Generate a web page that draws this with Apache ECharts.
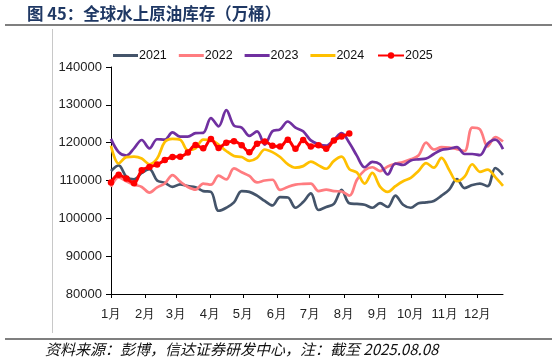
<!DOCTYPE html>
<html><head><meta charset="utf-8">
<script src="https://cdn.jsdelivr.net/npm/echarts@6/dist/echarts.min.js"></script>
<style>html,body{margin:0;padding:0;background:#fff}#c{width:557px;height:363px}</style>
</head><body><div id="c"></div>
<script>
const monthLabels = ['1月','2月','3月','4月','5月','6月','7月','8月','9月','10月','11月','12月'];
const monthStartDays = [0,31,59,90,120,151,181,212,243,273,304,334];
const yTicks = [80000, 90000, 100000, 110000, 120000, 130000, 140000];
const seriesNames = ['2021','2022','2023','2024','2025'];
const v2021 = [112500,114000,111000,110300,112000,113000,110000,109400,108300,109000,108500,108200,107200,107000,102000,102800,104200,107200,107000,106000,104600,103400,105600,105500,102800,104300,106600,102200,103000,103800,107500,104000,103800,103600,102800,104000,103000,106000,103600,102800,104000,104200,104600,106000,107600,110400,108000,108800,109200,108500,113300,111500];
const v2022 = [108300,110800,109800,108900,108300,106800,108200,109200,111400,109700,108300,107600,109200,108900,111300,110300,113200,112200,111200,109500,110000,110200,107500,108300,108900,109100,109200,107200,107600,107200,107100,106000,110200,112700,113500,112500,113700,114400,114900,115600,116600,120000,118200,118800,118700,118300,117800,124000,123500,119000,121500,120300];
const v2023 = [121000,117500,116600,118500,120700,118500,120900,120800,122700,121600,121600,122500,122600,126500,124300,128600,124500,124000,121800,123000,119500,123000,123500,125600,124000,123000,120600,119600,119200,120800,122500,120000,116500,113500,114900,114300,111600,114500,114100,115300,115600,115800,117000,118100,118400,118800,117000,117000,116700,119700,120800,118300];
const v2024 = [119200,114500,116200,116300,115800,114300,115800,120200,121000,120800,118000,118500,120800,120700,119500,117800,116500,116200,115200,116000,118200,117500,116200,114300,113400,113800,115000,114000,113100,115200,116300,113000,112100,109200,112000,108400,107000,108500,109800,110700,112500,114600,113400,116000,112800,109800,111000,114300,112300,112900,110900,108600];
const v2025 = [109500,111500,110500,109300,112700,113600,114200,115400,116200,116300,117400,119400,118500,121000,118600,120000,120400,119300,117500,119700,120300,119200,119000,120800,118400,120700,119000,119300,118400,120600,121600,122400];
const colors = ['#44546A','#FF7C80','#7030A0','#FFC000','#FF0000'];

const allValues = [v2021, v2022, v2023, v2024, v2025];
const toPoints = arr => arr.map((v, i) => [i * 7, v]);
const font = '"Liberation Sans", Arial, sans-serif';
const legendText = {fontSize: 12.5, color: '#111', fontFamily: font, padding: [0,0,0,-4]};

const chart = echarts.init(document.getElementById('c'), null, {renderer: 'canvas'});
chart.setOption({
  animation: false,
  backgroundColor: '#fff',
  title: {
    text: '图 45：全球水上原油库存（万桶）',
    left: 22, top: 0,
    textStyle: {fontSize: 16.5, fontWeight: 'bold', color: '#1F3864', fontFamily: '"Noto Sans CJK SC", sans-serif'}
  },
  legend: [
    {top: 44, left: 108, itemWidth: 25, itemHeight: 3, itemGap: 12, icon: 'rect',
     textStyle: legendText, data: seriesNames.slice(0, 4)},
    {top: 44, left: 372, itemWidth: 26, itemHeight: 8, itemGap: 12,
     textStyle: legendText, data: seriesNames.slice(4)}
  ],
  grid: {left: 111, right: 54, top: 67, bottom: 69},
  xAxis: {
    type: 'value', min: 0, max: 357,
    axisLine: {show: true, lineStyle: {color: '#000', width: 1}},
    axisTick: {show: true, length: 4, inside: false, customValues: monthStartDays, lineStyle: {color: '#000'}},
    axisLabel: {customValues: monthStartDays, margin: 14, fontSize: 13, color: '#222', fontFamily: font,
      formatter: v => monthLabels[monthStartDays.indexOf(v)] || ''},
    splitLine: {show: false}
  },
  yAxis: {
    type: 'value', min: yTicks[0], max: yTicks[yTicks.length - 1], interval: 10000,
    axisLine: {show: true, lineStyle: {color: '#000', width: 1}},
    axisTick: {show: true, length: 5, lineStyle: {color: '#000'}},
    axisLabel: {margin: 9, fontSize: 13, color: '#222', fontFamily: font, formatter: v => String(v)},
    splitLine: {show: false}
  },
  graphic: [
    {type: 'rect', shape: {x: 5, y: 24, width: 547, height: 2}, style: {fill: '#7F7F7F'}, silent: true},
    {type: 'rect', shape: {x: 52, y: 29, width: 1, height: 304}, style: {fill: '#C8C8C8'}, silent: true},
    {type: 'rect', shape: {x: 5, y: 338, width: 547, height: 2}, style: {fill: '#7F7F7F'}, silent: true},
    {type: 'text', left: 45, top: 342, style: {text: '资料来源：彭博，信达证券研发中心，注：截至 2025.08.08', fontSize: 15, fontStyle: 'italic', fill: '#111', fontFamily: '"Noto Sans CJK SC", sans-serif'}}
  ],
  series: seriesNames.map((n, k) => ({
    name: n, type: 'line', smooth: 0.35,
    data: toPoints(allValues[k]),
    showSymbol: k === 4, symbol: 'circle', symbolSize: 6.5,
    lineStyle: {color: colors[k], width: k === 4 ? 3 : 2.7},
    itemStyle: {color: colors[k]},
    z: 2 + k
  }))
});
</script></body></html>
